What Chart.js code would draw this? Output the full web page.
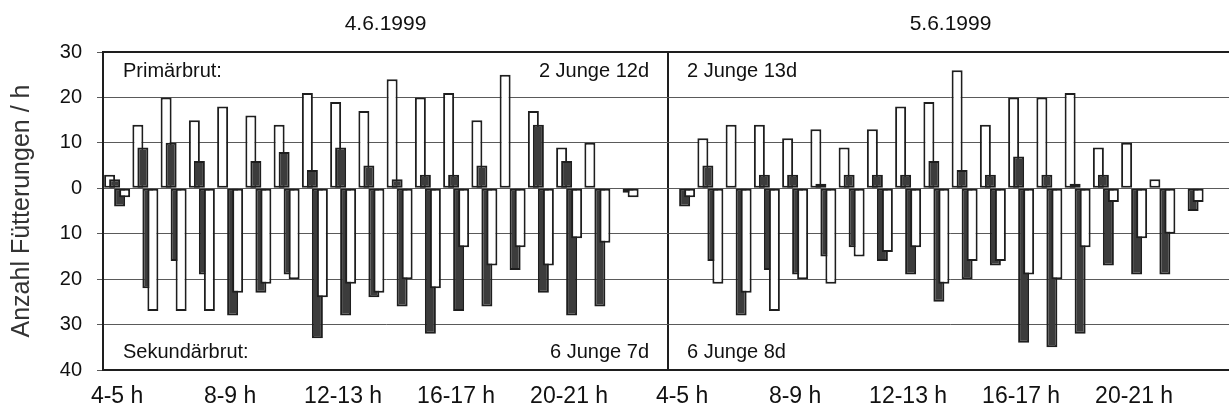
<!DOCTYPE html>
<html><head><meta charset="utf-8">
<script src="https://cdn.jsdelivr.net/npm/chart.js@4.4.1/dist/chart.umd.min.js"></script>
<style>
html,body{margin:0;padding:0;background:#fff;overflow:hidden;}
#wrap{position:relative;width:1240px;height:415px;}
</style></head><body>
<div id="wrap"><canvas id="c"></canvas></div>
<script>
// ---- data ----
const hours = ['4-5 h','5-6 h','6-7 h','7-8 h','8-9 h','9-10 h','10-11 h','11-12 h','12-13 h','13-14 h',
               '14-15 h','15-16 h','16-17 h','17-18 h','18-19 h','19-20 h','20-21 h','21-22 h','22-23 h','23-24 h'];
const categories = hours.concat(hours);
const dayTitles = ['4.6.1999', '5.6.1999'];
const yTicks = [30, 20, 10, 0, -10, -20, -30, -40];
const yTitle = 'Anzahl Fütterungen / h';
const topLabels = ['Primärbrut:', '2 Junge 12d', '2 Junge 13d'];
const bottomLabels = ['Sekundärbrut:', '6 Junge 7d', '6 Junge 8d'];

// Primärbrut (upwards)
const primWhite = [3,14,20,15,18,16,14,21,19,17,24,20,21,15,25,17,9,10,0,0,
                   0,11,14,14,11,13,9,13,18,19,26,14,20,20,21,9,10,2,0,0];
const primBlack = [2,9,10,6,0,6,8,4,9,5,2,3,3,5,0,14,6,0,0,0,
                   0,5,0,3,3,1,3,3,3,6,4,3,7,3,1,3,0,0,0,0];
// Sekundärbrut (downwards)
const sekBlack = [-4,-22,-16,-19,-28,-23,-19,-33,-28,-24,-26,-32,-27,-26,-18,-23,-28,-26,-1,0,
                  -4,-16,-28,-18,-19,-15,-13,-16,-19,-25,-20,-17,-34,-35,-32,-17,-19,-19,-5,0];
const sekWhite = [-2,-27,-27,-27,-23,-21,-20,-24,-21,-23,-20,-22,-13,-17,-13,-17,-11,-12,-2,0,
                  -2,-21,-23,-27,-20,-21,-15,-14,-13,-21,-16,-16,-19,-20,-13,-3,-11,-10,-3,0];

// ---- styles ----
const FONT = "'Liberation Sans', Arial, sans-serif";
const INK = '#1e1e1e';
const DARK = '#3c3c3c';
const GRID = '#5a5a5a';

function barSet(label, data, fill) {
  return { label, data, backgroundColor: fill, borderColor: INK, borderWidth: 2,
           borderSkipped: false, categoryPercentage: 0.708, barPercentage: 2.2 };
}

const drawInOrder = {
  id: 'drawInOrder',
  beforeDatasetsDraw(chart) {
    const a = chart.chartArea, ctx = chart.ctx;
    ctx.save();
    ctx.beginPath(); ctx.rect(a.left, a.top, a.width, a.height); ctx.clip();
    chart.data.datasets.forEach((d, i) => chart.getDatasetMeta(i).controller.draw());
    ctx.restore();
    return false;
  }
};

const decor = {
  id: 'decor',
  afterDraw(chart) {
    const a = chart.chartArea, ctx = chart.ctx, xs = chart.scales.x;
    const cw = xs.width / categories.length;
    const div = xs.left + cw * hours.length;
    ctx.save();
    ctx.strokeStyle = INK; ctx.lineWidth = 2;
    ctx.strokeRect(a.left, a.top, a.width, a.height);
    ctx.fillStyle = '#111';
    ctx.textBaseline = 'alphabetic';
    ctx.font = '21px ' + FONT;
    ctx.textAlign = 'center';
    ctx.fillText(dayTitles[0], (a.left + div) / 2, 30);
    ctx.fillText(dayTitles[1], (div + a.right) / 2, 30);
    ctx.font = '20px ' + FONT;
    ctx.textAlign = 'left';
    ctx.fillText(topLabels[0], a.left + 20, a.top + 25);
    ctx.fillText(bottomLabels[0], a.left + 20, a.bottom - 12);
    ctx.fillText(topLabels[2], div + 19, a.top + 25);
    ctx.fillText(bottomLabels[2], div + 19, a.bottom - 12);
    ctx.textAlign = 'right';
    ctx.fillText(topLabels[1], div - 19, a.top + 25);
    ctx.fillText(bottomLabels[1], div - 19, a.bottom - 12);
    ctx.restore();
  }
};

new Chart(document.getElementById('c'), {
  type: 'bar',
  data: {
    labels: categories,
    datasets: [
      barSet('Primärbrut weiß', primWhite, '#ffffff'),
      barSet('Primärbrut schwarz', primBlack, DARK),
      barSet('Sekundärbrut schwarz', sekBlack, DARK),
      barSet('Sekundärbrut weiß', sekWhite, '#ffffff')
    ]
  },
  options: {
    responsive: true, maintainAspectRatio: false, animation: false,
    layout: { padding: { top: 52, right: 7, bottom: 0, left: 0 } },
    plugins: { legend: { display: false }, tooltip: { enabled: false } },
    scales: {
      x: {
        offset: true,
        afterFit: s => { s.height = 45; },
        grid: {
          offset: true, drawTicks: false,
          color: c => c.index === hours.length ? INK : 'rgba(0,0,0,0)',
          lineWidth: c => c.index === hours.length ? 2 : 0
        },
        border: { display: true, color: INK, width: 2 },
        ticks: {
          autoSkip: false, maxRotation: 0, padding: 13, color: '#111',
          font: { size: 23, family: FONT },
          callback: (v, i) => ((i % hours.length) % 4 === 0 && (i % hours.length) <= 16) ? categories[i] : ''
        }
      },
      y: {
        min: -40, max: 30,
        afterFit: s => { s.width = 103; },
        afterBuildTicks: s => { s.ticks = yTicks.map(v => ({ value: v })); },
        grid: { color: GRID, lineWidth: 1, tickLength: 6, tickColor: GRID },
        border: { display: true, color: INK, width: 2 },
        ticks: { padding: 15, color: '#111', font: { size: 20, family: FONT },
                 callback: v => String(Math.abs(v)) },
        title: { display: true, text: yTitle, color: '#333',
                 font: { size: 25, family: FONT }, padding: { top: 7, bottom: 4 } }
      }
    }
  },
  plugins: [drawInOrder, decor]
});
</script>
</body></html>
